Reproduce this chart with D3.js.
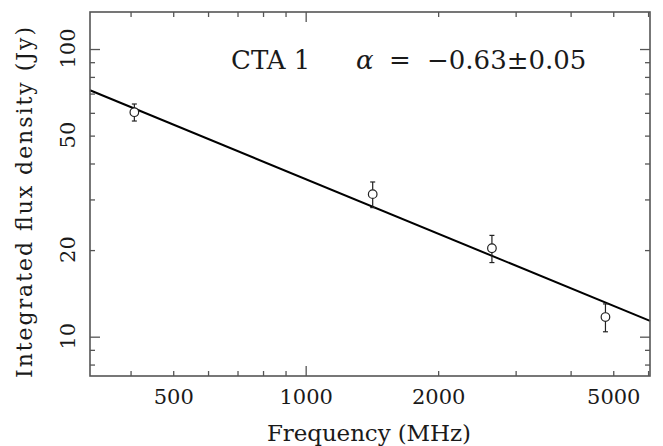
<!DOCTYPE html>
<html><head><meta charset="utf-8">
<script src="https://cdn.jsdelivr.net/npm/d3@7/dist/d3.min.js"></script>
<style>
html,body{margin:0;padding:0;background:#fff;}
svg{display:block;}
text{font-family:"DejaVu Serif",serif;fill:#1a1a1a;}
</style></head>
<body>
<script>
// ---- data ----
const freqMHz = [408, 1420, 2650, 4800];
const fluxJy  = [60.3, 31.3, 20.3, 11.7];
const errJy   = [4.1, 3.2, 2.2, 1.3];
const fitAlpha = -0.63;
const fitS1GHz = 35.3;
const xLabelTicks = [500, 1000, 2000, 5000];
const yLabelTicks = [10, 20, 50, 100];
const xMajorTicks = [1000];
const xMinorTicks = [400, 500, 600, 700, 800, 900, 2000, 3000, 4000, 5000, 6000];
const yMajorTicks = [10, 100];
const yMinorTicks = [8, 9, 20, 30, 40, 50, 60, 70, 80, 90];
const annotSource = "CTA 1";
const annotAlpha = "−0.63±0.05";
const xTitle = "Frequency (MHz)";
const yTitle = "Integrated flux density (Jy)";

// ---- layout ----
const W = 663, H = 446;
const L = 90, R = 650, T = 12, B = 376;
const svg = d3.select("body").append("svg").attr("width", W).attr("height", H);

const x = d3.scaleLog().domain([323.5, 6060]).range([L, R]);
const y = d3.scaleLog().domain([7.3, 134.5]).range([B, T]);

const axisCol = "#555";

// fit line
const fitFn = f => fitS1GHz * Math.pow(f / 1000, fitAlpha);
const xd = x.domain();
svg.append("path")
  .datum([xd[0], xd[1]])
  .attr("d", d3.line().x(f => x(f)).y(f => y(fitFn(f))))
  .attr("fill", "none").attr("stroke", "#000").attr("stroke-width", 2);

// error bars and points
const pts = freqMHz.map((f, i) => ({f, s: fluxJy[i], e: errJy[i]}));
const g = svg.append("g").attr("stroke", "#222").attr("stroke-width", 1.2).attr("fill", "none");
pts.forEach(p => {
  const cx = x(p.f), yt = y(p.s + p.e), yb = y(p.s - p.e);
  g.append("line").attr("x1", cx).attr("x2", cx).attr("y1", yt).attr("y2", yb);
  g.append("line").attr("x1", cx - 2.5).attr("x2", cx + 2.5).attr("y1", yt).attr("y2", yt);
  g.append("line").attr("x1", cx - 2.5).attr("x2", cx + 2.5).attr("y1", yb).attr("y2", yb);
  g.append("circle").attr("cx", cx).attr("cy", y(p.s)).attr("r", 4.3).attr("fill", "#fff");
});

// ticks via d3 axes (inside)
function ticks(axisFn, scale, vals, size, tr) {
  const a = svg.append("g").attr("transform", tr)
    .call(axisFn(scale).tickValues(vals).tickSizeInner(-size).tickSizeOuter(0).tickFormat(""));
  a.select(".domain").remove();
  a.selectAll("line").attr("stroke", axisCol).attr("stroke-width", 1.3);
}
ticks(d3.axisBottom, x, xMinorTicks, 5, `translate(0,${B})`);
ticks(d3.axisBottom, x, xMajorTicks, 10, `translate(0,${B})`);
ticks(d3.axisTop, x, xMinorTicks, 5, `translate(0,${T})`);
ticks(d3.axisTop, x, xMajorTicks, 10, `translate(0,${T})`);
ticks(d3.axisLeft, y, yMinorTicks, 5, `translate(${L},0)`);
ticks(d3.axisLeft, y, yMajorTicks, 10, `translate(${L},0)`);
ticks(d3.axisRight, y, yMinorTicks, 5, `translate(${R},0)`);
ticks(d3.axisRight, y, yMajorTicks, 10, `translate(${R},0)`);

// frame
svg.append("rect").attr("x", L).attr("y", T).attr("width", R - L).attr("height", B - T)
  .attr("fill", "none").attr("stroke", axisCol).attr("stroke-width", 1.6);

// tick labels
const xl = svg.append("g").attr("transform", `translate(0,${B})`)
  .call(d3.axisBottom(x).tickValues(xLabelTicks).tickSize(0).tickFormat(d3.format("d")));
xl.select(".domain").remove();
xl.selectAll("text").attr("y", 28).attr("dy", null)
  .style("font-family", "DejaVu Serif").style("font-size", "21px").attr("fill", "#1a1a1a");

const yl = svg.append("g").attr("transform", `translate(${L},0)`)
  .call(d3.axisLeft(y).tickValues(yLabelTicks).tickSize(0).tickFormat(d3.format("d")));
yl.select(".domain").remove();
yl.selectAll("text")
  .attr("x", null).attr("dy", null)
  .attr("text-anchor", "middle")
  .attr("transform", "translate(-15,-1) rotate(-90)")
  .style("font-family", "DejaVu Serif").style("font-size", "21px").attr("fill", "#1a1a1a");

// axis titles
svg.append("text").attr("x", (L + R) / 2 - 1).attr("y", 441)
  .attr("text-anchor", "middle").style("font-size", "23px")
  .attr("textLength", 204).attr("lengthAdjust", "spacing").text(xTitle);
svg.append("text").attr("transform", `translate(32,202.5) rotate(-90)`)
  .attr("text-anchor", "middle").style("font-size", "22px")
  .attr("textLength", 351).attr("lengthAdjust", "spacing").text(yTitle);

// annotation
svg.append("text").attr("x", 231).attr("y", 69).style("font-size", "26px").text(annotSource);
svg.append("text").attr("x", 356).attr("y", 69).style("font-size", "26px").style("font-style", "italic").text("α");
svg.append("text").attr("x", 389).attr("y", 69).style("font-size", "26px").text("=");
svg.append("text").attr("x", 427).attr("y", 69).style("font-size", "26px").text(annotAlpha);
</script>
</body></html>
